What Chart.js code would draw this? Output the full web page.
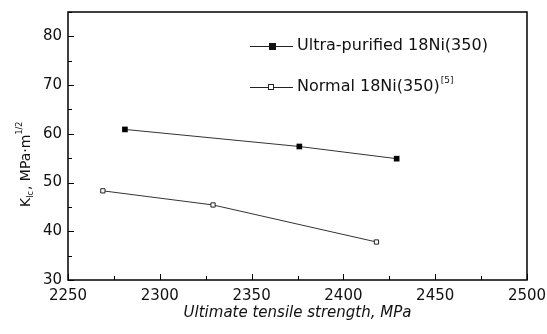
<!DOCTYPE html>
<html>
<head>
<meta charset="utf-8">
<script src="https://cdn.jsdelivr.net/npm/chart.js@4/dist/chart.umd.min.js"></script>
<style>
  html, body { margin: 0; padding: 0; background: #fff; }
  #wrap { width: 547px; height: 334px; }
</style>
</head>
<body>
<div id="wrap"><canvas id="myChart" width="547" height="334"></canvas></div>
<script>
// data
const ultraStrength = [2281, 2376, 2429];
const ultraK = [60.9, 57.4, 54.9];
const normalStrength = [2269, 2329, 2418];
const normalK = [48.3, 45.4, 37.8];

const xTicks = [2250, 2300, 2350, 2400, 2450, 2500];
const yTicks = [30, 40, 50, 60, 70, 80];
const seriesNames = ['Ultra-purified 18Ni(350)', 'Normal 18Ni(350)'];

const font = 'DejaVu Sans, sans-serif';

function toPoints(xs, ys) {
    return xs.map((x, i) => ({ x: x, y: ys[i] }));
}

// axes frame, inward ticks, legend and y title
const decorations = {
    id: 'decorations',
    afterDraw(chart) {
        const ctx = chart.ctx;
        const a = chart.chartArea;
        const xs = chart.scales.x, ys = chart.scales.y;
        ctx.save();
        ctx.strokeStyle = '#000';
        ctx.lineWidth = 1.5;
        ctx.strokeRect(a.left, a.top, a.right - a.left, a.bottom - a.top);

        ctx.lineWidth = 1;
        ctx.beginPath();
        for (let v = 2250; v <= 2500; v += 25) {
            const px = Math.round(xs.getPixelForValue(v)) + 0.5;
            const len = (v % 50 === 0) ? 6 : 4;
            ctx.moveTo(px, a.bottom);
            ctx.lineTo(px, a.bottom - len);
        }
        for (let v = 30; v <= 85; v += 5) {
            const py = Math.round(ys.getPixelForValue(v)) + 0.5;
            const len = (v % 10 === 0) ? 6 : 4;
            ctx.moveTo(a.left, py);
            ctx.lineTo(a.left + len, py);
        }
        ctx.stroke();

        // legend
        ctx.fillStyle = '#111';
        ctx.strokeStyle = '#222';
        ctx.textBaseline = 'middle';
        const lx = 250, lw = 43;
        const rows = [46, 87];
        rows.forEach((ly, i) => {
            ctx.beginPath();
            ctx.moveTo(lx, ly + 0.5);
            ctx.lineTo(lx + lw, ly + 0.5);
            ctx.stroke();
            if (i === 0) {
                ctx.fillRect(lx + 19, ly - 3, 7, 7);
            } else {
                ctx.fillStyle = '#fff';
                ctx.fillRect(lx + 18, ly - 3, 6, 6);
                ctx.strokeRect(lx + 18.5, ly - 2.5, 5, 5);
                ctx.fillStyle = '#111';
            }
            ctx.font = '16px ' + font;
            ctx.fillText(seriesNames[i], lx + lw + 4, ly);
            if (i === 1) {
                const w = ctx.measureText(seriesNames[i]).width;
                ctx.font = '9px ' + font;
                ctx.fillText('[5]', lx + lw + 4 + w + 1, ly - 6);
            }
        });

        // y title: K_Ic, MPa·m^1/2
        ctx.translate(30, 207);
        ctx.rotate(-Math.PI / 2);
        ctx.textBaseline = 'alphabetic';
        let x = 0;
        ctx.font = '14px ' + font;
        ctx.fillText('K', x, 0); x += ctx.measureText('K').width;
        ctx.font = '8px ' + font;
        ctx.fillText('Ic', x, 3); x += ctx.measureText('Ic').width + 1;
        ctx.font = '14px ' + font;
        ctx.fillText(', MPa\u00B7m', x, 0); x += ctx.measureText(', MPa\u00B7m').width;
        ctx.font = '8px ' + font;
        ctx.fillText('1/2', x, -8);
        ctx.restore();
    }
};

const ctx = document.getElementById('myChart').getContext('2d');
const myChart = new Chart(ctx, {
    type: 'scatter',
    data: {
        datasets: [{
            label: seriesNames[0],
            data: toPoints(ultraStrength, ultraK),
            showLine: true,
            borderColor: '#333',
            borderWidth: 1,
            pointStyle: 'rect',
            pointRadius: 4,
            pointBackgroundColor: '#000',
            pointBorderColor: '#000',
            pointBorderWidth: 0
        }, {
            label: seriesNames[1],
            data: toPoints(normalStrength, normalK),
            showLine: true,
            borderColor: '#333',
            borderWidth: 1,
            pointStyle: 'rect',
            pointRadius: 3,
            pointBackgroundColor: '#fff',
            pointBorderColor: '#222',
            pointBorderWidth: 1
        }]
    },
    options: {
        responsive: false,
        animation: false,
        layout: { padding: { top: 12, right: 20, left: 0, bottom: 0 } },
        plugins: {
            legend: { display: false },
            tooltip: { enabled: false }
        },
        scales: {
            x: {
                type: 'linear',
                min: 2250,
                max: 2500,
                afterBuildTicks: s => { s.ticks = xTicks.map(v => ({ value: v })); },
                afterFit: s => { s.height = 54; s.paddingLeft = 0; s.paddingRight = 0; },
                grid: { display: false, drawTicks: false },
                border: { display: false },
                ticks: {
                    color: '#111',
                    font: { family: font, size: 15 },
                    padding: 7,
                    callback: v => String(v)
                },
                title: {
                    display: true,
                    text: 'Ultimate tensile strength, MPa',
                    color: '#111',
                    font: { family: font, size: 15, style: 'italic' },
                    padding: { top: 0, bottom: 12 }
                }
            },
            y: {
                min: 30,
                max: 85,
                afterBuildTicks: s => { s.ticks = yTicks.map(v => ({ value: v })); },
                afterFit: s => { s.width = 68; s.paddingTop = 0; s.paddingBottom = 0; },
                grid: { display: false, drawTicks: false },
                border: { display: false },
                ticks: { color: '#111', font: { family: font, size: 15 }, padding: 6 }
            }
        }
    },
    plugins: [decorations]
});
</script>
</body>
</html>
